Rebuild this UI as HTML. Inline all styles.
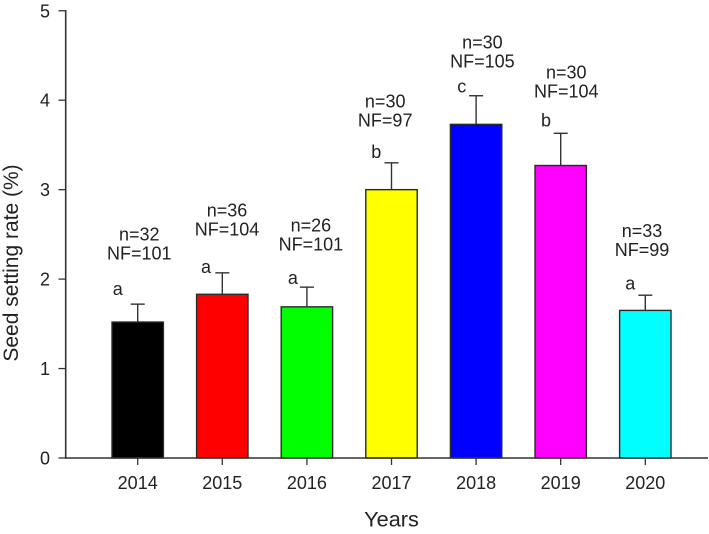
<!DOCTYPE html>
<html lang="en">
<head>
<meta charset="utf-8">
<title>Seed setting rate by year</title>
<style>
html,body{margin:0;padding:0;background:#fff;width:709px;height:534px;overflow:hidden}
svg{display:block;font-family:"Liberation Sans",Arial,sans-serif}
text{fill:#222}
</style>
</head>
<body>
<svg id="chart" xmlns="http://www.w3.org/2000/svg" width="709" height="534" viewBox="0 0 709 534">
  <rect x="0" y="0" width="709" height="534" fill="#fff"/>
  <g id="bars"></g>
  <g id="annotations"></g>
  <g id="axes"></g>
  <text transform="translate(18,263) rotate(-90)" text-anchor="middle" font-size="21">Seed setting rate (%)</text>
  <text x="391.5" y="526.5" text-anchor="middle" font-size="21.7">Years</text>
</svg>
<script>
const years = ['2014', '2015', '2016', '2017', '2018', '2019', '2020'];
const means = [1.52, 1.83, 1.69, 3.00, 3.73, 3.27, 1.65];
const errorTops = [1.72, 2.07, 1.91, 3.30, 4.05, 3.63, 1.82];
const sampleCounts = [32, 36, 26, 30, 30, 30, 33];
const flowerCounts = [101, 104, 101, 97, 105, 104, 99];
const groupLetters = ['a', 'a', 'a', 'b', 'c', 'b', 'a'];
const barColors = ['#000000', '#ff0000', '#00ff00', '#ffff00', '#0000ff', '#ff00ff', '#00ffff'];
const yTickValues = [0, 1, 2, 3, 4, 5];

const NS = 'http://www.w3.org/2000/svg';
const INK = '#333';

function yScale(v) {
  return 458 - v * 89.45;
}
function xScale(i) {
  return 137.7 + i * 84.6;
}
function make(tag, attrs, parent) {
  const el = document.createElementNS(NS, tag);
  for (const k in attrs) el.setAttribute(k, attrs[k]);
  parent.appendChild(el);
  return el;
}

function drawBars() {
  const g = document.getElementById('bars');
  const barWidth = 51.4;
  years.forEach(function (year, i) {
    const cx = xScale(i);
    const top = yScale(means[i]);
    const errTop = yScale(errorTops[i]);

    const stem = make('line', {x1: cx, x2: cx, y1: errTop, y2: top, stroke: INK, 'stroke-width': 1.4}, g);
    
    

    const cap = make('line', {x1: cx - 7, x2: cx + 7, y1: errTop, y2: errTop, stroke: INK, 'stroke-width': 1.4}, g);
    
    

    const bar = make('rect', {x: cx - barWidth / 2, y: top, width: barWidth, height: yScale(0) - top, fill: barColors[i], stroke: '#2a2a2a', 'stroke-width': 1.4}, g);
    
    
  });
}

function drawAnnotations() {
  const g = document.getElementById('annotations');
  /* hand-placed label nudges relative to each error-bar top */
  const letterDx = [-20, -16.3, -14, -15.3, -14.3, -14.7, -15];
  const letterDy = [-9, 0, -3, -4.7, -3.3, -6.6, -5.7];
  const countDx = [1.6, 4.7, 4, -6.3, 6.3, 5.6, -3.3];
  const countDy = [-44.5, -37.5, -36.5, -36.5, -28, -36, -39];
  years.forEach(function (year, i) {
    const cx = xScale(i);
    const errTop = yScale(errorTops[i]);

    const letter = make('text', {x: cx + letterDx[i], y: errTop + letterDy[i], 'text-anchor': 'middle', 'font-size': 18}, g);
    letter.textContent = groupLetters[i];
    
    

    const nLabel = make('text', {x: cx + countDx[i], y: errTop + countDy[i] - 19, 'text-anchor': 'middle', 'font-size': 18}, g);
    nLabel.textContent = 'n=' + sampleCounts[i];
    
    

    const nfLabel = make('text', {x: cx + countDx[i], y: errTop + countDy[i], 'text-anchor': 'middle', 'font-size': 18}, g);
    nfLabel.textContent = 'NF=' + flowerCounts[i];
    
    
  });
}

function drawAxes() {
  const g = document.getElementById('axes');
  const axisX = 65.7;

  const yAxis = make('line', {x1: axisX, x2: axisX, y1: yScale(5) - 0.7, y2: yScale(0) + 0.7, stroke: INK, 'stroke-width': 1.6}, g);
  
  

  const xAxis = make('line', {x1: axisX, x2: 708, y1: yScale(0), y2: yScale(0), stroke: INK, 'stroke-width': 1.6}, g);
  
  

  yTickValues.forEach(function (v) {
    const y = yScale(v);
    const tick = make('line', {x1: 58.5, x2: axisX, y1: y, y2: y, stroke: INK, 'stroke-width': 1.3}, g);
    
    

    const label = make('text', {x: 50, y: y + 6.5, 'text-anchor': 'end', 'font-size': 18}, g);
    label.textContent = String(v);
    
    
  });

  years.forEach(function (year, i) {
    const x = xScale(i);
    const tick = make('line', {x1: x, x2: x, y1: yScale(0), y2: yScale(0) + 7, stroke: INK, 'stroke-width': 1.3}, g);
    
    

    const label = make('text', {x: x, y: 489, 'text-anchor': 'middle', 'font-size': 18}, g);
    label.textContent = year;
    
    
  });
}

drawBars();
drawAnnotations();
drawAxes();
</script>
</body>
</html>
